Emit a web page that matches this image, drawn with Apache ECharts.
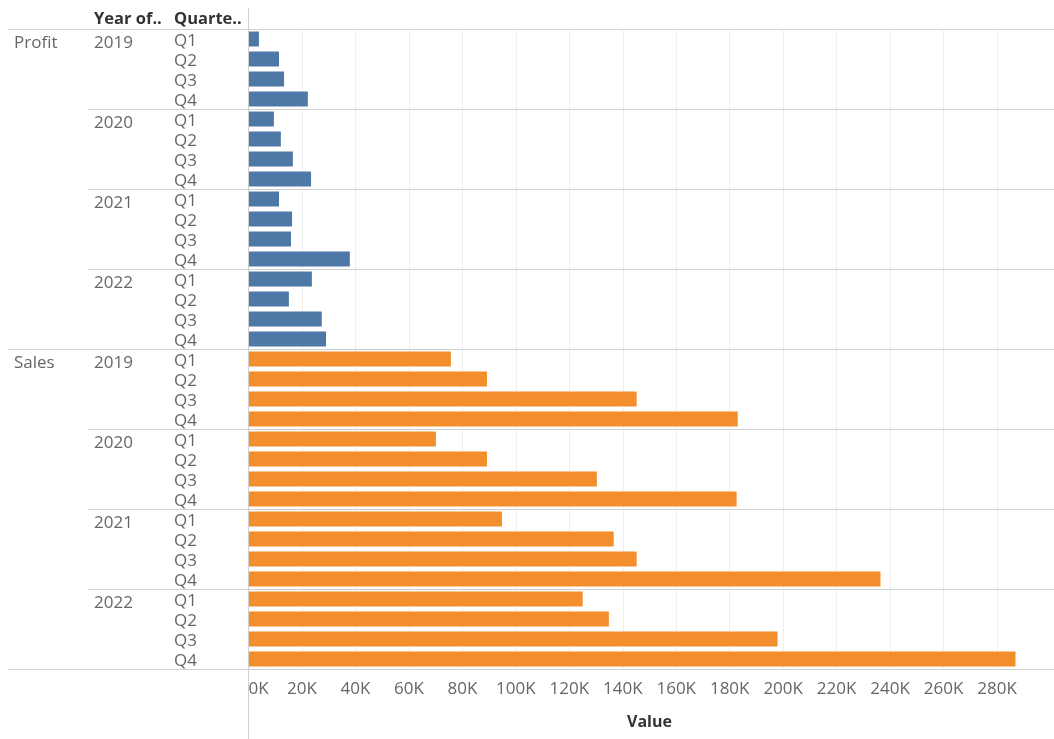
<!DOCTYPE html>
<html>
<head>
<meta charset="utf-8">
<script src="https://cdn.jsdelivr.net/npm/echarts@6/dist/echarts.min.js"></script>
<style>
html,body{margin:0;padding:0;background:#fff;}
#c{width:1054px;height:739px;}
</style>
</head>
<body>
<div id="c"></div>
<script>
const measures = ['Profit', 'Sales'];
const years = ['2019', '2020', '2021', '2022'];
const quarters = ['Q1', 'Q2', 'Q3', 'Q4'];
const profitValues = [3900, 11400, 13300, 22200, 9500, 12100, 16600, 23400, 11400, 16300, 15900, 37900, 23700, 15100, 27400, 29000];
const salesValues = [75700, 89200, 145200, 183000, 70100, 89200, 130300, 182600, 94800, 136600, 145200, 236400, 125000, 134800, 197900, 286900];
const xTickInterval = 20000;
const xMax = 300000;
const headerYear = 'Year of..';
const headerQuarter = 'Quarte..';
const axisTitle = 'Value';

const rows = [];
measures.forEach(m => years.forEach(y => quarters.forEach(q => rows.push(m + '|' + y + '|' + q))));
const nPerMeasure = years.length * quarters.length;
const profitData = rows.map((r, i) => i < nPerMeasure ? profitValues[i] : '-');
const salesData = rows.map((r, i) => i >= nPerMeasure ? salesValues[i - nPerMeasure] : '-');

const FONT = 'Open Sans';
const labelColor = '#666666';
const gridLeft = 248.5;

const chart = echarts.init(document.getElementById('c'), null, {renderer: 'canvas'});

function yAxisFor(gridIndex, margin, formatter) {
  return {
    type: 'category', data: rows, inverse: true, position: 'left', gridIndex: gridIndex,
    axisLine: {show: false}, axisTick: {show: false}, splitLine: {show: false},
    axisLabel: {
      show: formatter !== null, interval: 0, margin: margin, align: 'left', color: labelColor,
      fontFamily: FONT, fontSize: 17, formatter: formatter || undefined
    }
  };
}
const hiddenX = g => ({type: 'value', gridIndex: g, min: 0, max: xMax, show: false});

chart.setOption({
  animation: false,
  grid: [
    {left: gridLeft, right: 3.5, top: 29, height: 640, containLabel: false},
    {left: gridLeft, right: 3.5, top: 31, height: 640, containLabel: false},
    {left: gridLeft, right: 3.5, top: 33.5, height: 640, containLabel: false}
  ],
  xAxis: [{
    type: 'value', gridIndex: 0, min: 0, max: xMax, interval: xTickInterval,
    axisLine: {show: false}, axisTick: {show: false},
    splitLine: {show: true, showMaxLine: false, lineStyle: {color: '#efefef', width: 1}},
    axisLabel: {
      color: labelColor, fontFamily: FONT, fontSize: 17, margin: 12,
      alignMinLabel: 'left', showMaxLabel: false,
      formatter: v => (v / 1000) + 'K'
    },
    name: axisTitle, nameLocation: 'middle', nameGap: 45,
    nameTextStyle: {color: '#333333', fontFamily: FONT, fontSize: 16, fontWeight: 'bold'}
  }, hiddenX(1), hiddenX(2)],
  yAxis: [
    yAxisFor(0, 8, null),
    yAxisFor(1, gridLeft - 174, v => v.split('|')[2]),
    yAxisFor(2, gridLeft - 94, v => { const p = v.split('|'); return p[2] === quarters[0] ? p[1] : ''; }),
    yAxisFor(2, gridLeft - 14, v => { const p = v.split('|'); return (p[2] === quarters[0] && p[1] === years[0]) ? p[0] : ''; })
  ],
  series: [
    {type: 'bar', name: measures[0], data: profitData, stack: 'a', barWidth: 15, xAxisIndex: 0, yAxisIndex: 0,
     itemStyle: {color: '#4e79a7'}},
    {type: 'bar', name: measures[1], data: salesData, stack: 'a', barWidth: 15, xAxisIndex: 0, yAxisIndex: 0,
     itemStyle: {color: '#f28e2b'}}
  ]
});

// separators and headers, positioned through the axes' scales
const graphics = [];
const rowY = i => chart.convertToPixel({yAxisIndex: 0}, i);
const half = (rowY(1) - rowY(0)) / 2;
const lineColor = '#d0d0d0';
const W = 1054;
function hline(y, x0) {
  graphics.push({type: 'line', shape: {x1: x0, y1: y, x2: W, y2: y}, style: {stroke: lineColor, lineWidth: 1}, z: 10});
}
for (let i = 0; i <= rows.length; i++) {
  const y = Math.round((i < rows.length ? rowY(i) - half : rowY(rows.length - 1) + half)) + 0.5;
  if (i % nPerMeasure === 0) hline(y, 8);
  else if (i % quarters.length === 0) hline(y, 88);
}
const x0 = chart.convertToPixel({xAxisIndex: 0}, 0);
graphics.push({type: 'line', shape: {x1: x0, y1: 8, x2: x0, y2: 739}, style: {stroke: lineColor, lineWidth: 1}, z: 10});
const headY = rowY(0) - half - 10;
graphics.push({type: 'text', x: 94, y: headY, style: {text: headerYear, fill: '#333333', font: 'bold 16.5px "' + FONT + '"', textVerticalAlign: 'middle'}});
graphics.push({type: 'text', x: 174, y: headY, style: {text: headerQuarter, fill: '#333333', font: 'bold 16.5px "' + FONT + '"', textVerticalAlign: 'middle'}});
chart.setOption({graphic: graphics});
</script>
</body>
</html>
